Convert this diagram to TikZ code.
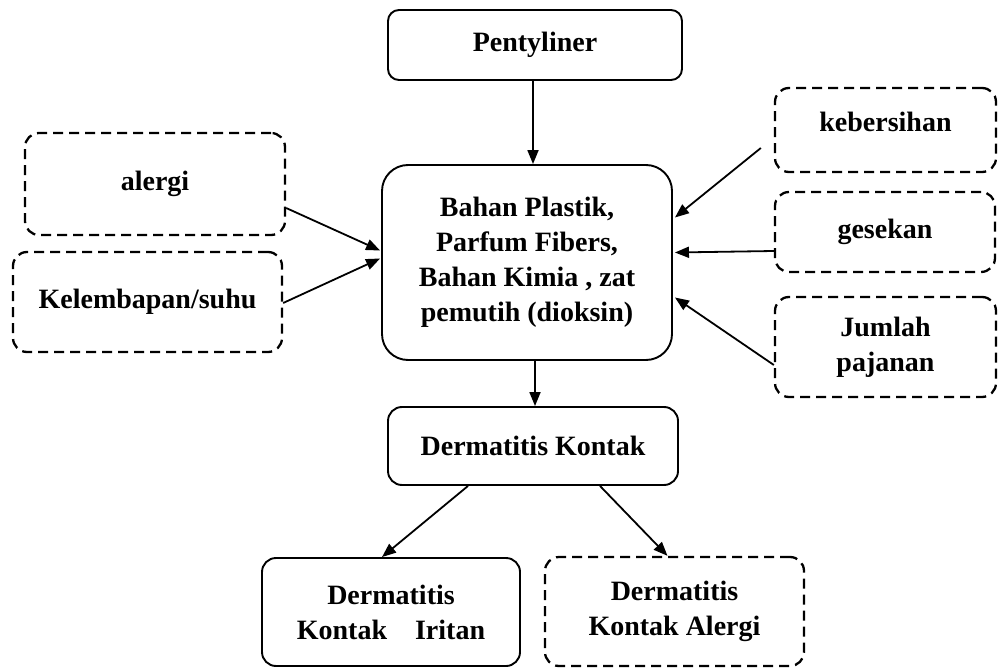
\documentclass[tikz,border=0pt]{standalone}
\usepackage{fontspec}
\setmainfont{Liberation Serif}
\usetikzlibrary{arrows.meta}
\begin{document}
\begin{tikzpicture}[x=1pt,y=-1pt,
  box/.style={draw,line width=1.9pt,rounded corners=14pt,align=center,inner sep=0pt,
    font=\fontsize{28}{35}\selectfont\bfseries},
  dbox/.style={box,dash pattern=on 10pt off 6pt,line width=2.3pt},
  arr/.style={line width=1.8pt,-{Triangle[length=14pt,width=11pt]}}]
\useasboundingbox (0,0) rectangle (998,668);
\node[box,rounded corners=11pt,minimum width=294pt,minimum height=70pt] (pent) at (535,45) {Pentyliner};
\node[box,rounded corners=26pt,minimum width=290pt,minimum height=195pt] (bahan) at (527,262.5)
  {Bahan Plastik,\\Parfum Fibers,\\Bahan Kimia , zat\\pemutih (dioksin)};
\node[dbox,minimum width=260pt,minimum height=102pt] (alergi) at (155,184) {alergi};
\node[dbox,minimum width=269pt,minimum height=100pt] (kelem) at (147.5,302) {Kelembapan/suhu};
\node[dbox,minimum width=221pt,minimum height=84pt,text depth=16pt] (keb) at (885.5,130) {kebersihan};
\node[dbox,minimum width=220pt,minimum height=80pt] (ges) at (885,232) {gesekan};
\node[dbox,minimum width=221pt,minimum height=100pt] (jum) at (885.5,347) {Jumlah\\pajanan};
\node[box,minimum width=290pt,minimum height=78pt] (dk) at (533,446) {Dermatitis Kontak};
\node[box,minimum width=258pt,minimum height=108pt] (dki) at (391,612) {Dermatitis\\Kontak\quad Iritan};
\node[dbox,minimum width=259pt,minimum height=109pt] (dka) at (674.5,611.5) {Dermatitis\\Kontak Alergi};
\draw[arr] ([xshift=-2pt]pent.south) -- ([xshift=6pt]bahan.north);
\draw[arr] ([xshift=8pt]bahan.south) -- ([xshift=2pt]dk.north);
\draw[arr] ([yshift=-24pt]alergi.east) -- ([xshift=-1pt,yshift=12pt]bahan.west);
\draw[arr] ([yshift=-1pt]kelem.east) -- ([xshift=-1pt,yshift=4pt]bahan.west);
\draw[arr] ([xshift=-13pt,yshift=-18pt]keb.west) -- ([xshift=2pt,yshift=45pt]bahan.east);
\draw[arr] ([yshift=-19pt]ges.west) -- ([xshift=2pt,yshift=10pt]bahan.east);
\draw[arr] ([yshift=-18pt]jum.west) -- ([xshift=2pt,yshift=-35pt]bahan.east);
\draw[arr] ([xshift=-65pt]dk.south) -- ([xshift=-9pt]dki.north);
\draw[arr] ([xshift=67pt]dk.south) -- ([xshift=-7pt]dka.north);
\end{tikzpicture}
\end{document}
